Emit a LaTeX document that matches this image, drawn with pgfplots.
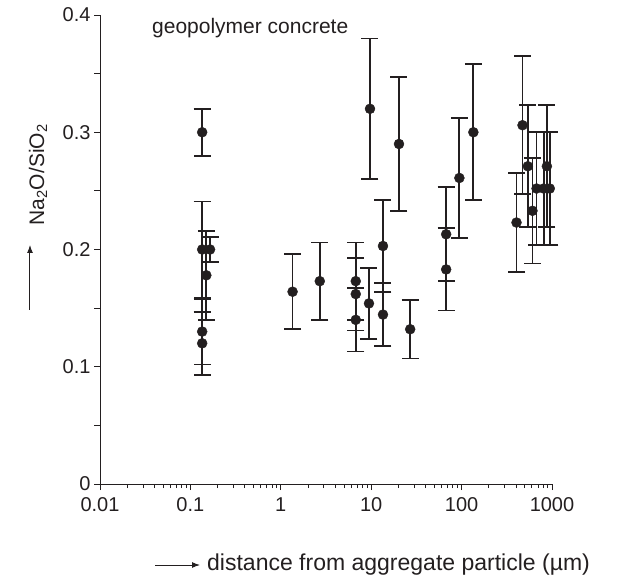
\documentclass[border=0pt]{standalone}
\usepackage{fontspec}
\setmainfont{Liberation Sans}
\usepackage{pgfplots}
\pgfplotsset{compat=1.18}
\usetikzlibrary{arrows.meta}
\definecolor{ink}{HTML}{231F20}
\begin{document}
\begin{tikzpicture}
\begin{axis}[
  scale only axis, width=452pt, height=469pt,
  xmode=log, log basis x=10,
  xmin=0.01, xmax=1000, ymin=0, ymax=0.4,
  axis lines=left, axis line style={-, line width=0.9pt, color=ink},
  xtick={0.01,0.1,1,10,100,1000}, xticklabels={0.01,0.1,1,10,100,1000},
  minor xtick={0.02,0.03,0.04,0.05,0.06,0.07,0.08,0.09,0.2,0.3,0.4,0.5,0.6,0.7,0.8,0.9,2,3,4,5,6,7,8,9,20,30,40,50,60,70,80,90,200,300,400,500,600,700,800,900},
  ytick={0,0.1,0.2,0.3,0.4}, yticklabels={0,0.1,0.2,0.3,0.4},
  extra y ticks={0.05,0.15,0.25,0.35}, extra y tick labels={},
  tick align=outside, major tick length=6pt, minor tick length=4pt,
  tick style={line width=0.9pt, color=ink},
  ticklabel style={font=\fontsize{20}{24}\selectfont, text=ink},
  /pgf/number format/assume math mode=true,
  xticklabel style={yshift=-4pt},
  clip=false,
]
\addplot+[only marks, mark=*, color=ink, mark size=5pt,
  mark options={fill=ink, draw=ink},
  error bars/.cd, y dir=both, y explicit,
  error bar style={line width=1.8pt, color=ink},
  error mark=-,
  error mark options={rotate=90, mark size=8.5pt, line width=1.8pt, color=ink}]
  table[x=x, y=y, y error=e] {
x y e
0.135 0.300 0.020
0.135 0.200 0.041
0.165 0.200 0.011
0.150 0.178 0.038
0.135 0.130 0.028
0.135 0.120 0.027
1.35 0.164 0.032
2.7 0.173 0.033
6.75 0.173 0.033
6.75 0.162 0.031
6.75 0.140 0.027
9.45 0.154 0.030
9.7 0.320 0.060
13.5 0.203 0.039
13.5 0.1445 0.027
20.3 0.290 0.057
27 0.132 0.025
67.5 0.213 0.040
67.5 0.183 0.035
94.5 0.261 0.051
135 0.300 0.058
405 0.223 0.042
472 0.306 0.059
540 0.271 0.052
608 0.233 0.045
675 0.252 0.048
810 0.252 0.048
878 0.271 0.052
945 0.252 0.048
};
\end{axis}
\node[anchor=west, font=\fontsize{21}{25}\selectfont, text=ink, inner sep=0pt] at (52pt,456pt) {geopolymer concrete};
\node[anchor=west, font=\fontsize{23}{27}\selectfont, text=ink, inner sep=0pt] at (107pt,-81pt) {distance from aggregate particle (µm)};
\draw[-{Latex[length=8pt,width=6pt]}, line width=1pt, ink] (55pt,-81pt) -- (100pt,-81pt);
\node[rotate=90, font=\fontsize{21}{25}\selectfont, text=ink, inner sep=0pt] at (-62pt,309pt) {Na\textsubscript{2}O/SiO\textsubscript{2}};
\draw[-{Latex[length=8pt,width=6pt]}, line width=1pt, ink] (-70pt,174pt) -- (-70pt,239pt);
\pgfresetboundingbox
\useasboundingbox (-100pt,-97pt) rectangle (532pt,484pt);
\end{tikzpicture}
\end{document}
